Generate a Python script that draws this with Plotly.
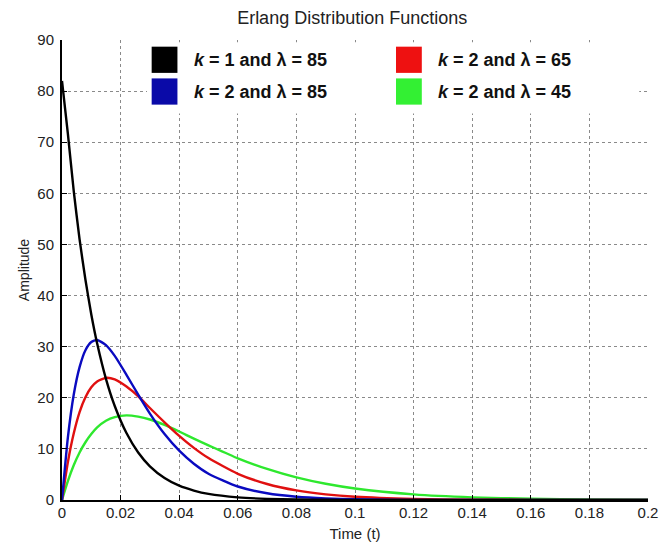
import plotly.graph_objects as go

# Time samples (s)
t = [0, 0.002, 0.004, 0.006, 0.008, 0.010, 0.012, 0.015, 0.018, 0.022, 0.026, 0.030,
     0.035, 0.040, 0.045, 0.050, 0.06, 0.07, 0.08, 0.09, 0.10, 0.12, 0.14, 0.16, 0.18, 0.20]

# k = 1, lambda = 85
k1_l85 = [82.0, 71.7, 60.5, 51.0, 43.1, 36.3, 30.6, 23.7, 18.4, 13.1, 9.3, 6.6,
          4.3, 2.8, 1.85, 1.2, 0.52, 0.22, 0.09, 0.04, 0.02, 0.0, 0.0, 0.0, 0.0, 0.0]
# k = 2, lambda = 85
k2_l85 = [0.0, 12.2, 20.6, 26.0, 29.3, 30.9, 31.3, 30.3, 28.2, 24.5, 20.6, 16.9,
          12.9, 9.65, 7.1, 5.15, 2.64, 1.31, 0.64, 0.31, 0.15, 0.03, 0.006, 0.0, 0.0, 0.0]
# k = 2, lambda = 65
k2_l65 = [0.0, 7.4, 13.0, 17.2, 20.1, 22.05, 23.2, 23.9, 23.6, 22.2, 20.3, 18.0,
          15.2, 12.55, 10.2, 8.2, 5.13, 3.13, 1.87, 1.10, 0.63, 0.21, 0.066, 0.021, 0.006, 0.002]
# k = 2, lambda = 45
k2_l45 = [0.0, 3.7, 6.8, 9.3, 11.3, 12.9, 14.2, 15.5, 16.2, 16.55, 16.3, 15.75,
          14.7, 13.4, 12.0, 10.7, 8.16, 6.08, 4.42, 3.17, 2.25, 1.10, 0.52, 0.24, 0.11, 0.05]

series = [
    ("<i>k</i> = 2 and λ = 45", k2_l45, "#2ee82e", "#33f033"),
    ("<i>k</i> = 2 and λ = 65", k2_l65, "#e01010", "#ee1111"),
    ("<i>k</i> = 2 and λ = 85", k2_l85, "#0a0ac0", "#0a0aa8"),
    ("<i>k</i> = 1 and λ = 85", k1_l85, "#000000", "#000000"),
]

x_ticks = [0, 0.02, 0.04, 0.06, 0.08, 0.1, 0.12, 0.14, 0.16, 0.18, 0.2]
x_tick_text = ["0", "0.02", "0.04", "0.06", "0.08", "0.1", "0.12", "0.14", "0.16", "0.18", "0.2"]
y_ticks = [0, 10, 20, 30, 40, 50, 60, 70, 80, 90]

fig = go.Figure()
for name, ys, col, _ in series:
    fig.add_trace(go.Scatter(x=t, y=ys, mode="lines", name=name,
                             line=dict(color=col, width=2.4, shape="spline", smoothing=0.6),
                             showlegend=False, hoverinfo="skip"))

font = "Liberation Sans, Arial, sans-serif"

# Legend (manual, square swatches in two columns)
shapes = [dict(type="rect", xref="paper", yref="paper", x0=0.145, x1=0.985, y0=0.84, y1=0.995,
               fillcolor="white", line=dict(width=0), layer="above")]
legend_pos = [  # (series index, swatch x0, row y-center)
    (3, 0.153, 0.957),
    (2, 0.153, 0.888),
    (1, 0.570, 0.957),
    (0, 0.570, 0.888),
]
annotations = []
sw_w, sw_h = 0.044, 0.057
for idx, x0, yc in legend_pos:
    name, _, _, swcol = series[idx]
    shapes.append(dict(type="rect", xref="paper", yref="paper", x0=x0, x1=x0 + sw_w,
                       y0=yc - sw_h / 2, y1=yc + sw_h / 2, fillcolor=swcol,
                       line=dict(width=0), layer="above"))
    annotations.append(dict(xref="paper", yref="paper", x=x0 + 0.068, y=yc, text="<b>" + name + "</b>",
                            showarrow=False, xanchor="left", yanchor="middle",
                            font=dict(family=font, size=18, color="#111")))

fig.update_layout(
    width=662, height=550,
    margin=dict(l=62, r=14, t=40, b=50, autoexpand=False),
    paper_bgcolor="white", plot_bgcolor="white",
    title=dict(text="Erlang Distribution Functions", x=0.532, xanchor="center",
               yref="container", y=0.967, yanchor="middle",
               font=dict(family=font, size=18, color="#222")),
    font=dict(family=font, size=15, color="#222"),
    shapes=shapes, annotations=annotations,
    xaxis=dict(range=[0, 0.2], tickvals=x_ticks, ticktext=x_tick_text, automargin=False,
               showgrid=True, gridcolor="#8a8a8a", griddash="dot", gridwidth=1.2,
               showline=True, linecolor="black", linewidth=2, mirror=False,
               ticks="inside", ticklen=5, tickcolor="black", zeroline=False,
               ticklabelstandoff=-2,
               title=dict(text="Time (t)", font=dict(family=font, size=15, color="#222"), standoff=8),
               tickfont=dict(family=font, size=15, color="#222")),
    yaxis=dict(range=[0, 90], tickvals=y_ticks, automargin=False,
               showgrid=True, gridcolor="#8a8a8a", griddash="dot", gridwidth=1.2,
               showline=True, linecolor="black", linewidth=2, mirror=False,
               ticks="inside", ticklen=5, tickcolor="black", zeroline=False,
               ticklabelstandoff=3,
               title=dict(text="Amplitude", font=dict(family=font, size=14, color="#222"), standoff=4),
               tickfont=dict(family=font, size=15, color="#222")),
)

# Remove the default page margin so the 662x550 figure fills the window exactly
fig.write_html("out.html", config={"displayModeBar": False},
               post_script="document.body.style.margin='0';")
